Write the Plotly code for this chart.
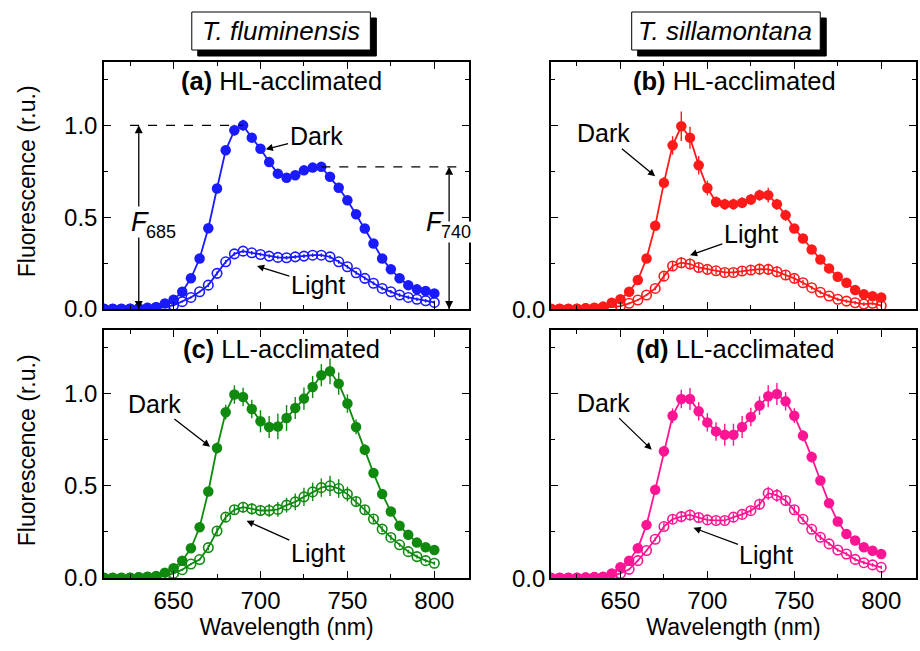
import plotly.graph_objects as go

# ---------------- data ----------------
wavelength = list(range(610, 805, 5))

a_dark = [0.0, 0.0, 0.0, 0.002, 0.003, 0.005, 0.01, 0.03, 0.05, 0.094, 0.167, 0.275, 0.44, 0.656, 0.864,
          0.973, 1.0, 0.933, 0.873, 0.80, 0.737, 0.715, 0.728, 0.755, 0.77, 0.774, 0.72, 0.66, 0.592,
          0.516, 0.438, 0.357, 0.275, 0.216, 0.167, 0.13, 0.107, 0.098, 0.085]
a_light = [0.0, 0.0, 0.0, 0.0, 0.002, 0.005, 0.008, 0.013, 0.02, 0.04, 0.063, 0.094, 0.13, 0.194, 0.257,
           0.3, 0.315, 0.306, 0.297, 0.288, 0.281, 0.279, 0.284, 0.288, 0.293, 0.293, 0.284, 0.257, 0.23,
           0.197, 0.167, 0.14, 0.112, 0.094, 0.076, 0.063, 0.053, 0.045, 0.036]
b_dark = [0.0, 0.0, 0.0, 0.002, 0.004, 0.007, 0.013, 0.034, 0.053, 0.094, 0.158, 0.275, 0.453, 0.687, 0.891,
          0.995, 0.933, 0.783, 0.659, 0.583, 0.571, 0.571, 0.578, 0.596, 0.62, 0.62, 0.571, 0.511, 0.438,
          0.384, 0.324, 0.27, 0.221, 0.176, 0.143, 0.103, 0.08, 0.07, 0.063]
b_light = [0.0, 0.0, 0.0, 0.0, 0.002, 0.004, 0.006, 0.01, 0.016, 0.031, 0.049, 0.076, 0.112, 0.179, 0.234,
           0.252, 0.245, 0.226, 0.216, 0.208, 0.199, 0.199, 0.207, 0.212, 0.217, 0.216, 0.203, 0.185, 0.167,
           0.143, 0.116, 0.091, 0.071, 0.053, 0.043, 0.034, 0.027, 0.031, 0.018]
c_dark = [0.0, 0.0, 0.0, 0.002, 0.004, 0.007, 0.011, 0.029, 0.053, 0.094, 0.161, 0.275, 0.469, 0.705, 0.899,
          0.995, 0.982, 0.917, 0.85, 0.819, 0.822, 0.868, 0.922, 0.973, 1.036, 1.1, 1.121, 1.054, 0.946,
          0.819, 0.696, 0.569, 0.455, 0.361, 0.283, 0.234, 0.192, 0.167, 0.152]
c_light = [0.0, 0.0, 0.0, 0.0, 0.002, 0.004, 0.007, 0.013, 0.025, 0.045, 0.076, 0.1, 0.165, 0.255, 0.33,
           0.37, 0.384, 0.375, 0.366, 0.366, 0.372, 0.395, 0.413, 0.44, 0.467, 0.49, 0.5, 0.485, 0.455,
           0.415, 0.37, 0.32, 0.265, 0.22, 0.18, 0.143, 0.116, 0.094, 0.08]
d_dark = [0.0, 0.0, 0.0, 0.001, 0.003, 0.005, 0.007, 0.025, 0.058, 0.094, 0.161, 0.288, 0.478, 0.687, 0.88,
          0.971, 0.971, 0.904, 0.844, 0.795, 0.777, 0.777, 0.819, 0.873, 0.935, 0.986, 0.998, 0.958, 0.88,
          0.772, 0.656, 0.529, 0.406, 0.306, 0.239, 0.203, 0.167, 0.148, 0.13]
d_light = [0.0, 0.0, 0.0, 0.0, 0.001, 0.002, 0.004, 0.011, 0.025, 0.047, 0.094, 0.149, 0.21, 0.279, 0.319,
           0.333, 0.342, 0.328, 0.315, 0.312, 0.312, 0.33, 0.345, 0.365, 0.4, 0.46, 0.448, 0.42, 0.37,
           0.319, 0.264, 0.221, 0.185, 0.152, 0.13, 0.101, 0.083, 0.071, 0.058]

a_dark_err = [0.005]*12 + [0.01, 0.015, 0.02, 0.03, 0.03, 0.02, 0.015, 0.015, 0.015, 0.015, 0.015, 0.015,
                           0.015, 0.015, 0.02, 0.015, 0.015, 0.015, 0.015, 0.01, 0.01, 0.01, 0.01, 0.01,
                           0.01]
a_light_err = [0.005]*12 + [0.01]*27
b_dark_err = [0.005]*12 + [0.02, 0.03, 0.05, 0.08, 0.06, 0.05, 0.04, 0.03, 0.03, 0.03, 0.03, 0.03, 0.03,
                           0.04, 0.03, 0.03, 0.02, 0.02, 0.02, 0.02, 0.02, 0.02, 0.015, 0.015, 0.015, 0.015,
                           0.015]
b_light_err = [0.005]*12 + [0.01, 0.02, 0.025, 0.03, 0.03, 0.025, 0.02, 0.02, 0.02, 0.02, 0.02, 0.025, 0.03,
                            0.03, 0.03, 0.025, 0.02, 0.015, 0.01, 0.01, 0.01, 0.01, 0.01, 0.01, 0.01, 0.01,
                            0.01]
c_dark_err = [0.005]*12 + [0.02, 0.03, 0.04, 0.05, 0.05, 0.05, 0.06, 0.06, 0.07, 0.07, 0.06, 0.06, 0.06,
                           0.06, 0.07, 0.06, 0.05, 0.04, 0.03, 0.02, 0.02, 0.02, 0.015, 0.015, 0.015, 0.015,
                           0.015]
c_light_err = [0.005]*12 + [0.015, 0.02, 0.02, 0.025, 0.03, 0.03, 0.03, 0.035, 0.04, 0.04, 0.045, 0.05,
                            0.05, 0.05, 0.055, 0.05, 0.04, 0.03, 0.025, 0.02, 0.015, 0.015, 0.01, 0.01, 0.01,
                            0.01, 0.01]
d_dark_err = [0.005]*12 + [0.02, 0.03, 0.04, 0.05, 0.06, 0.05, 0.05, 0.05, 0.06, 0.06, 0.06, 0.05, 0.05,
                           0.06, 0.06, 0.05, 0.04, 0.03, 0.03, 0.02, 0.02, 0.02, 0.015, 0.015, 0.015, 0.015,
                           0.015]
d_light_err = [0.005]*12 + [0.01, 0.02, 0.025, 0.03, 0.03, 0.025, 0.02, 0.02, 0.02, 0.02, 0.02, 0.02, 0.03,
                            0.035, 0.035, 0.03, 0.02, 0.015, 0.015, 0.015, 0.01, 0.01, 0.01, 0.01, 0.01, 0.01,
                            0.01]

species = ["T. fluminensis", "T. sillamontana"]
panel_titles = ["<b>(a)</b> HL-acclimated", "<b>(b)</b> HL-acclimated",
                "<b>(c)</b> LL-acclimated", "<b>(d)</b> LL-acclimated"]
x_ticks = [650, 700, 750, 800]
y_ticks = [0.0, 0.5, 1.0]
right_panel_zero_label = "0.0"

# ---------------- styling ----------------
FONT = "Liberation Sans, Arial, sans-serif"
FS_TICK = 24
FS_TITLE = 23
FS_PANEL = 25.5
FS_LABEL = 25
colors = ["#1a1aff", "#ff1a1a", "#0f8a0f", "#ff1493"]
W, H = 920, 651
ML, MR, MT, MB = 104, 2, 62, 73
PW, PH = W - ML - MR, H - MT - MB

def px2paper(px, py):
    return (px - ML) / PW, (H - MB - py) / PH

xdoms = [[0, 366 / PW], [(552 - ML) / PW, 1.0]]
ydoms = [[(578 - 309) / PH, 1.0], [0.0, (578 - 330) / PH]]

fig = go.Figure()

panels = [
    (a_dark, a_dark_err, a_light, a_light_err),
    (b_dark, b_dark_err, b_light, b_light_err),
    (c_dark, c_dark_err, c_light, c_light_err),
    (d_dark, d_dark_err, d_light, d_light_err),
]

for i, (dk, dke, lt, lte) in enumerate(panels):
    xa = "x" if i == 0 else f"x{i+1}"
    ya = "y" if i == 0 else f"y{i+1}"
    col = colors[i]
    fig.add_trace(go.Scatter(
        x=wavelength, y=lt, xaxis=xa, yaxis=ya, mode="lines+markers",
        line=dict(color=col, width=1.8),
        marker=dict(symbol="circle-open", size=9.5, color=col, line=dict(width=1.6, color=col)),
        error_y=dict(type="data", array=lte, color=col, thickness=1.4, width=0),
        showlegend=False))
    fig.add_trace(go.Scatter(
        x=wavelength, y=dk, xaxis=xa, yaxis=ya, mode="lines+markers",
        line=dict(color=col, width=1.8),
        marker=dict(symbol="circle", size=10.5, color=col),
        error_y=dict(type="data", array=dke, color=col, thickness=1.4, width=0),
        showlegend=False))

# F685 / F740 markers in panel (a), derived from the dark spectrum
f685 = max(a_dark)
wl685 = wavelength[a_dark.index(f685)]
idx740 = wavelength.index(735)
f740 = a_dark[idx740]
for xv, top in [(630, f685), (808.5, f740)]:
    fig.add_trace(go.Scatter(
        x=[xv, xv], y=[0, top], xaxis="x", yaxis="y", mode="lines+markers",
        line=dict(color="black", width=1.3),
        marker=dict(symbol=["arrow-down", "arrow-up"], size=8, color="black"),
        cliponaxis=False, showlegend=False, hoverinfo="skip"))

axis_common = dict(showline=True, linecolor="black", linewidth=1.5, mirror="allticks",
                   ticks="inside", tickcolor="black", tickwidth=1.2,
                   showgrid=False, zeroline=False,
                   tickfont=dict(family=FONT, size=FS_TICK, color="black"))

layout = dict(width=W, height=H, margin=dict(l=ML, r=MR, t=MT, b=MB),
              plot_bgcolor="white", paper_bgcolor="white",
              font=dict(family=FONT, size=FS_TITLE, color="black"))

for i in range(4):
    r, c = divmod(i, 2)
    sfx = "" if i == 0 else str(i + 1)
    xa = dict(axis_common, domain=xdoms[c], range=[610, 820], tickvals=x_ticks,
              ticklen=7, anchor=f"y{sfx}",
              minor=dict(ticks="inside", dtick=25, tick0=625, ticklen=4, tickcolor="black", tickwidth=1.2),
              showticklabels=(r == 1))
    if r == 1:
        xa["title"] = dict(text="Wavelength (nm)", font=dict(family=FONT, size=FS_TITLE), standoff=6)
    ya = dict(axis_common, domain=ydoms[r], range=[0, 1.345], tickvals=y_ticks, tickformat=".1f",
              ticklen=7, anchor=f"x{sfx}", showticklabels=(c == 0),
              minor=dict(ticks="inside", dtick=0.25, tick0=0, ticklen=4, tickcolor="black", tickwidth=1.2))
    layout[f"xaxis{sfx}"] = xa
    layout[f"yaxis{sfx}"] = ya

fig.update_layout(**layout)

ann = []
shapes = []

# "0.0" labels at the origin of the right-hand panels
for sfx in ["2", "4"]:
    ann.append(dict(text=right_panel_zero_label, xref=f"x{sfx} domain", yref=f"y{sfx}", x=0, y=0,
                    xanchor="right", yanchor="middle", xshift=-4, showarrow=False,
                    font=dict(size=FS_TICK)))

# y titles
for yc in [181, 450]:
    xp, yp = px2paper(27, yc)
    ann.append(dict(text="Fluorescence (r.u.)", xref="paper", yref="paper", x=xp, y=yp,
                    textangle=-90, showarrow=False, font=dict(size=FS_TITLE),
                    xanchor="center", yanchor="middle"))

# panel titles
for i, t in enumerate(panel_titles):
    sfx = "" if i == 0 else str(i + 1)
    ann.append(dict(text=t, xref=f"x{sfx} domain", yref=f"y{sfx} domain",
                    x=0.487 if i % 2 == 0 else 0.503, y=0.925, showarrow=False,
                    font=dict(size=FS_PANEL), xanchor="center", yanchor="middle"))

# species header boxes with drop shadow
for name, (bx0, bx1), cx in zip(species, [(192, 371), (633, 822)], [281, 727]):
    for off, fill in [(6, "black"), (0, "white")]:
        x0, y0 = px2paper(bx0 + off, 12 + off)
        x1, y1 = px2paper(bx1 + off, 50 + off)
        shapes.append(dict(type="rect", xref="paper", yref="paper", x0=x0, x1=x1, y0=y1, y1=y0,
                           fillcolor=fill, line=dict(color="black", width=1)))
    xp, yp = px2paper(cx, 31)
    ann.append(dict(text=f"<i>{name}</i>", xref="paper", yref="paper", x=xp, y=yp, showarrow=False,
                    font=dict(size=26), xanchor="center", yanchor="middle"))

# Dark / Light labels with arrows: (panel, text, text centre, arrow head) in data coords
labels = [
    (0, "Dark", (732, 0.94), (703, 0.87)),
    (0, "Light", (733, 0.13), (698, 0.234)),
    (1, "Dark", (640, 0.957), (670, 0.723)),
    (1, "Light", (725, 0.408), (690, 0.293)),
    (2, "Dark", (639, 0.946), (671, 0.712)),
    (2, "Light", (733, 0.136), (692, 0.310)),
    (3, "Dark", (640, 0.951), (668, 0.696)),
    (3, "Light", (734, 0.125), (692, 0.272)),
]
for i, t, tp, head in labels:
    sfx = "" if i == 0 else str(i + 1)
    ann.append(dict(text=t, xref=f"x{sfx}", yref=f"y{sfx}", axref=f"x{sfx}", ayref=f"y{sfx}",
                    x=head[0], y=head[1], ax=tp[0], ay=tp[1], showarrow=True,
                    arrowhead=2, arrowsize=1.1, arrowwidth=1.3, arrowcolor="black", standoff=0,
                    font=dict(size=FS_LABEL), borderpad=1))

shapes.append(dict(type="line", xref="x", yref="y", x0=625, x1=wl685, y0=f685, y1=f685,
                   line=dict(color="black", width=1.2, dash="dash")))
shapes.append(dict(type="line", xref="x", yref="y", x0=735, x1=815, y0=f740, y1=f740,
                   line=dict(color="black", width=1.2, dash="dash")))

# F labels: italic F plus a smaller subscript number, each on white so the arrow is interrupted
for (fx, fy), (sx, sy), sub in [((630.5, 0.475), (642.5, 0.418), "685"),
                                ((800.5, 0.475), (812.5, 0.418), "740")]:
    ann.append(dict(text="<i>F</i>", xref="x", yref="y", x=fx, y=fy, showarrow=False,
                    font=dict(size=27), bgcolor="white", xanchor="center", yanchor="middle", borderpad=0))
    ann.append(dict(text=sub, xref="x", yref="y", x=sx, y=sy, showarrow=False,
                    font=dict(size=18), bgcolor="white", xanchor="center", yanchor="middle", borderpad=0))

fig.update_layout(annotations=ann, shapes=shapes)
fig.write_html("out.html")
